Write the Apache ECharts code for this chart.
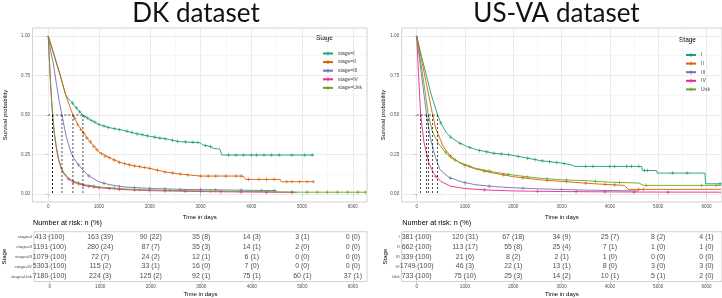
<!DOCTYPE html>
<html><head><meta charset="utf-8">
<script src="https://cdn.jsdelivr.net/npm/echarts@6/dist/echarts.min.js"></script>
<style>html,body{margin:0;padding:0;background:#fff}#c{width:722px;height:298px}</style>
</head><body><div id="c"></div><script>
// ---------- shared ----------
const colors = ['#1B9E77', '#D95F02', '#7570B3', '#E7298A', '#66A61E'];
const xTicks = [0, 1000, 2000, 3000, 4000, 5000, 6000];
const xGrid = [0, 500, 1000, 1500, 2000, 2500, 3000, 3500, 4000, 4500, 5000, 5500, 6000];
const yTicks = [0, 0.25, 0.5, 0.75, 1];
const yGrid = [0, 0.125, 0.25, 0.375, 0.5, 0.625, 0.75, 0.875, 1];
const tableTimes = [0, 1000, 2000, 3000, 4000, 5000, 6000];

// ---------- DK dataset ----------
const dkLabels = ['stage=I', 'stage=II', 'stage=III', 'stage=IV', 'stage=Unk'];
const dkCurveI = [[0,1],[100,0.89],[236,0.75],[340,0.63],[400,0.6],[470,0.58],[550,0.545],[683,0.5],[800,0.475],[1000,0.44],[1200,0.42],[1476,0.403],[1700,0.385],[2000,0.365],[2362,0.346],[2600,0.331],[2990,0.325],[3050,0.31],[3200,0.3],[3250,0.289],[3380,0.285],[3420,0.247],[5230,0.247]];
const dkCurveII = [[0,1],[100,0.9],[236,0.753],[350,0.62],[486,0.5],[600,0.43],[683,0.394],[800,0.34],[1000,0.265],[1230,0.226],[1476,0.194],[1700,0.178],[2000,0.163],[2300,0.14],[2598,0.127],[2800,0.12],[3000,0.114],[3840,0.114],[3888,0.093],[4570,0.093],[4590,0.078],[5230,0.078]];
const dkCurveIII = [[0,1],[50,0.9],[105,0.816],[160,0.7],[210,0.6],[270,0.5],[350,0.37],[420,0.29],[486,0.236],[580,0.19],[683,0.152],[800,0.115],[1000,0.078],[1200,0.06],[1476,0.046],[2000,0.036],[2600,0.03],[3500,0.026],[4500,0.022]];
const dkCurveIV = [[0,1],[20,0.86],[40,0.73],[60,0.62],[85,0.5],[120,0.38],[160,0.29],[200,0.22],[250,0.165],[300,0.13],[400,0.095],[500,0.075],[700,0.055],[1000,0.04],[1500,0.028],[2000,0.022],[3000,0.016],[4000,0.013],[4900,0.011]];
const dkCurveUnk = [[0,1],[20,0.87],[40,0.74],[60,0.63],[85,0.5],[120,0.39],[160,0.3],[200,0.23],[250,0.175],[300,0.14],[400,0.1],[500,0.08],[700,0.06],[1000,0.045],[1500,0.033],[2000,0.026],[3000,0.02],[4000,0.016],[5000,0.012],[6250,0.012]];
const dkCensorI = [[480,0.575],[560,0.545],[620,0.52],[720,0.49],[780,0.48],[850,0.465],[920,0.455],[1000,0.44],[1100,0.43],[1180,0.42],[1300,0.413],[1400,0.407],[1550,0.398],[1650,0.39],[1750,0.38],[1850,0.376],[1950,0.368],[2100,0.36],[2200,0.354],[2300,0.35],[2450,0.34],[2550,0.333],[2700,0.33],[2850,0.328],[2950,0.326],[3100,0.307],[3200,0.3],[3550,0.247],[3700,0.247],[3850,0.247],[4000,0.247],[4100,0.247],[4250,0.247],[4400,0.247],[4550,0.247],[4800,0.247],[5050,0.247],[5200,0.247]];
const dkCensorII = [[520,0.48],[580,0.44],[640,0.41],[700,0.385],[760,0.355],[830,0.33],[900,0.3],[960,0.28],[1050,0.255],[1120,0.24],[1200,0.23],[1300,0.215],[1400,0.2],[1500,0.192],[1600,0.185],[1700,0.178],[1800,0.173],[1900,0.168],[2000,0.163],[2150,0.15],[2300,0.14],[2450,0.133],[2600,0.127],[2750,0.121],[3000,0.114],[3150,0.114],[3300,0.114],[3500,0.114],[3700,0.114],[3800,0.114],[3950,0.093],[4150,0.093],[4300,0.093],[4450,0.093],[4700,0.078],[4800,0.078],[4950,0.078],[5100,0.078],[5220,0.078]];
const dkCensorIII = [[600,0.185],[800,0.115],[1100,0.068],[1400,0.048],[1700,0.042],[2000,0.036],[2300,0.033],[2600,0.03],[3000,0.028],[3300,0.027],[3800,0.025],[4200,0.023],[4450,0.022]];
const dkCensorIV = [[400,0.095],[500,0.075],[600,0.064],[700,0.055],[800,0.05],[900,0.045],[1000,0.04],[1200,0.035],[1400,0.03],[1700,0.026],[2000,0.022],[2300,0.02],[2700,0.018],[3000,0.016],[3400,0.015],[3800,0.013],[4300,0.012],[4800,0.011]];
const dkCensorUnk = [[600,0.07],[900,0.05],[1300,0.038],[1800,0.029],[2400,0.024],[3200,0.019],[4300,0.015],[4800,0.013],[5100,0.012],[5300,0.012],[5500,0.012],[5700,0.012],[5900,0.012],[6100,0.012],[6250,0.012]];
const dkMedians = [683, 486, 270, 85, 85];
const dkRiskI = ['413 (100)', '163 (39)', '90 (22)', '35 (8)', '14 (3)', '3 (1)', '0 (0)'];
const dkRiskII = ['1191 (100)', '280 (24)', '87 (7)', '35 (3)', '14 (1)', '2 (0)', '0 (0)'];
const dkRiskIII = ['1079 (100)', '72 (7)', '24 (2)', '12 (1)', '6 (1)', '0 (0)', '0 (0)'];
const dkRiskIV = ['5303 (100)', '115 (2)', '33 (1)', '16 (0)', '7 (0)', '0 (0)', '0 (0)'];
const dkRiskUnk = ['7180 (100)', '224 (3)', '125 (2)', '92 (1)', '75 (1)', '60 (1)', '37 (1)'];

// ---------- US-VA dataset ----------
const vaLabels = ['I', 'II', 'III', 'IV', 'Unk'];
const vaCurveI = [[0,1],[100,0.87],[200,0.75],[300,0.63],[434,0.5],[500,0.45],[621,0.385],[750,0.35],[897,0.322],[1050,0.3],[1242,0.28],[1587,0.259],[1932,0.248],[2250,0.23],[2553,0.212],[3001,0.196],[3200,0.185],[3278,0.175],[4656,0.175],[4670,0.149],[4967,0.149],[4980,0.133],[5969,0.133],[5980,0.065],[6300,0.065]];
const vaCurveII = [[0,1],[100,0.85],[200,0.7],[331,0.5],[400,0.41],[551,0.3],[700,0.24],[897,0.196],[1200,0.16],[1587,0.133],[2000,0.11],[2553,0.09],[3000,0.08],[3693,0.065],[4300,0.055],[4380,0.03],[6300,0.03]];
const vaCurveIII = [[0,1],[60,0.85],[130,0.68],[206,0.5],[280,0.36],[380,0.24],[482,0.154],[650,0.11],[897,0.08],[1200,0.06],[1587,0.048],[2000,0.04],[2553,0.033],[3500,0.025],[4600,0.02]];
const vaCurveIV = [[0,1],[40,0.75],[82,0.5],[150,0.33],[250,0.2],[350,0.13],[500,0.08],[700,0.05],[1000,0.035],[1500,0.025],[2000,0.02],[3000,0.016],[4500,0.013],[6300,0.012]];
const vaCurveUnk = [[0,1],[80,0.84],[160,0.68],[241,0.5],[320,0.4],[450,0.32],[551,0.28],[700,0.23],[897,0.2],[1200,0.165],[1587,0.14],[2000,0.12],[2553,0.1],[3000,0.09],[3500,0.085],[4000,0.075],[4600,0.07],[4700,0.055],[6300,0.055]];
const vaCensorI = [[500,0.45],[700,0.36],[900,0.32],[1100,0.295],[1300,0.275],[1450,0.267],[1600,0.258],[1750,0.253],[1900,0.249],[2100,0.238],[2300,0.227],[2450,0.218],[2600,0.21],[2750,0.205],[2900,0.2],[3050,0.193],[3500,0.175],[3650,0.175],[4000,0.175],[4100,0.175],[4350,0.175],[4450,0.175],[4600,0.175],[4720,0.149],[4780,0.149],[5300,0.133],[5600,0.133],[6280,0.065]];
const vaCensorII = [[700,0.24],[1000,0.18],[1400,0.145],[1800,0.122],[2200,0.102],[2700,0.087],[3100,0.078],[3500,0.069],[3900,0.062],[4100,0.058],[4600,0.03],[4700,0.03]];
const vaCensorIII = [[700,0.1],[1000,0.071],[1500,0.05],[2200,0.037],[3000,0.029]];
const vaCensorIV = [[400,0.11],[1400,0.027],[2500,0.018],[3300,0.015],[3900,0.014],[4500,0.013],[5200,0.012]];
const vaCensorUnk = [[600,0.265],[800,0.215],[1100,0.175],[1500,0.145],[1900,0.125],[2300,0.108],[2700,0.097],[3100,0.089],[3700,0.081],[4200,0.073],[4750,0.055],[5900,0.055],[6200,0.055]];
const vaMedians = [434, 331, 206, 82, 241];
const vaRiskI = ['381 (100)', '120 (31)', '67 (18)', '34 (9)', '25 (7)', '8 (2)', '4 (1)'];
const vaRiskII = ['662 (100)', '113 (17)', '55 (8)', '25 (4)', '7 (1)', '1 (0)', '1 (0)'];
const vaRiskIII = ['339 (100)', '21 (6)', '8 (2)', '2 (1)', '1 (0)', '0 (0)', '0 (0)'];
const vaRiskIV = ['1749 (100)', '46 (3)', '22 (1)', '13 (1)', '8 (0)', '3 (0)', '3 (0)'];
const vaRiskUnk = ['733 (100)', '75 (10)', '25 (3)', '14 (2)', '10 (1)', '5 (1)', '2 (0)'];

// ---------- build ----------
const AXF = 'Liberation Sans';
const PLUS = 'path://M4,0H6V4H10V6H6V10H4V6H0V4H4Z';
const option = { animation: false, grid: [], xAxis: [], yAxis: [], series: [], legend: [], graphic: [] };

function addPanel(c) {
  const g0 = option.grid.length, g1 = g0 + 1;
  option.grid.push({ left: c.left, top: 28, width: c.width, height: 174, show: true, borderColor: '#b3b3b3', borderWidth: 0.6 });
  option.grid.push({ left: c.left, top: 231.7, width: c.width, height: 50, show: true, borderColor: '#b3b3b3', borderWidth: 0.6 });
  const tickStyle = { color: '#b3b3b3', width: 0.6 };
  const lab = { fontSize: 4.6, color: '#4d4d4d', fontFamily: AXF, margin: 2.5 };
  const xfmt = v => String(Math.round(v));
  // minor grid axes for plot
  option.xAxis.push({ gridIndex: g0, type: 'value', position: 'bottom', min: -310, max: c.xMax, axisLine: { show: false },
    axisTick: { show: false, customValues: xGrid }, axisLabel: { show: false, customValues: xGrid },
    splitLine: { show: true, lineStyle: { color: '#f0f0f0', width: 0.5 } } });
  option.yAxis.push({ gridIndex: g0, type: 'value', position: 'left', min: -0.05, max: 1.05, axisLine: { show: false },
    axisTick: { show: false, customValues: yGrid }, axisLabel: { show: false, customValues: yGrid },
    splitLine: { show: true, lineStyle: { color: '#f0f0f0', width: 0.5 } } });
  // main axes
  const xMain = option.xAxis.length;
  option.xAxis.push({ gridIndex: g0, type: 'value', position: 'bottom', min: -310, max: c.xMax, axisLine: { show: false },
    axisTick: { show: true, length: 2.5, lineStyle: tickStyle, customValues: xTicks },
    axisLabel: Object.assign({ customValues: xTicks, formatter: xfmt }, lab),
    splitLine: { show: true, lineStyle: { color: '#e3e3e3', width: 0.6 } },
    name: 'Time in days', nameLocation: 'middle', nameGap: 7.5,
    nameTextStyle: { fontSize: 6, color: '#000', fontFamily: AXF } });
  const yMain = option.yAxis.length;
  option.yAxis.push({ gridIndex: g0, type: 'value', position: 'left', min: -0.05, max: 1.05, axisLine: { show: false },
    axisTick: { show: true, length: 2.5, lineStyle: tickStyle, customValues: yTicks },
    axisLabel: Object.assign({ customValues: yTicks, formatter: v => v.toFixed(2) }, lab),
    splitLine: { show: true, lineStyle: { color: '#e3e3e3', width: 0.6 } },
    name: 'Survival probability', nameLocation: 'middle', nameRotate: 90, nameGap: c.yNameGap,
    nameTextStyle: { fontSize: 6, color: '#000', fontFamily: AXF } });
  // table axes
  const xTab = option.xAxis.length;
  option.xAxis.push({ gridIndex: g1, type: 'value', position: 'bottom', min: -310, max: c.xMax, axisLine: { show: false },
    axisTick: { show: true, length: 2.5, lineStyle: tickStyle, customValues: xTicks },
    axisLabel: Object.assign({ customValues: xTicks, formatter: xfmt }, lab),
    splitLine: { show: true, lineStyle: { color: '#ececec', width: 0.5 } },
    name: 'Time in days', nameLocation: 'middle', nameGap: 9.5,
    nameTextStyle: { fontSize: 6, color: '#000', fontFamily: AXF } });
  const yTab = option.yAxis.length;
  option.yAxis.push({ gridIndex: g1, type: 'category', position: 'left', data: c.labels, inverse: true, axisLine: { show: false },
    axisTick: { show: true, alignWithLabel: true, length: 2.5, lineStyle: tickStyle },
    axisLabel: { fontSize: 4.4, color: '#4d4d4d', fontFamily: AXF, margin: 2 },
    splitLine: { show: false },
    name: 'Stage', nameLocation: 'middle', nameRotate: 90, nameGap: c.tabNameGap,
    nameTextStyle: { fontSize: 6, color: '#000', fontFamily: AXF } });

  // curves
  c.curves.forEach((d, i) => {
    option.series.push({ type: 'line', name: c.labels[i], xAxisIndex: xMain, yAxisIndex: yMain, data: d,
      showSymbol: false, symbol: PLUS, symbolSize: 4, color: colors[i],
      lineStyle: { width: 0.9, color: colors[i] }, z: 3 });
  });
  c.censors.forEach((d, i) => {
    option.series.push({ type: 'scatter', xAxisIndex: xMain, yAxisIndex: yMain, data: d,
      symbol: PLUS, symbolSize: 3.6, itemStyle: { color: colors[i], opacity: 0.9 }, z: 4, silent: true });
  });
  // median lines
  const mMax = Math.max(...c.medians);
  option.series.push({ type: 'line', xAxisIndex: xMain, yAxisIndex: yMain, data: [[0, 0.5], [mMax, 0.5]],
    showSymbol: false, symbol: 'none', lineStyle: { color: '#000', width: 0.7, type: [2, 2] }, z: 5, silent: true });
  c.medians.forEach(m => {
    option.series.push({ type: 'line', xAxisIndex: xMain, yAxisIndex: yMain, data: [[m, 0.5], [m, 0]],
      showSymbol: false, symbol: 'none', lineStyle: { color: '#000', width: 0.7, type: [2, 2] }, z: 5, silent: true });
  });
  // risk table
  const tdata = [];
  c.risk.forEach((row, r) => row.forEach((txt, k) => tdata.push([tableTimes[k], c.labels[r], txt])));
  option.series.push({ type: 'scatter', xAxisIndex: xTab, yAxisIndex: yTab, data: tdata, symbolSize: 0,
    label: { show: true, position: 'inside', formatter: p => p.value[2], fontSize: 7, color: '#222', fontFamily: AXF },
    silent: true });
  // legend
  option.legend.push({ orient: 'vertical', left: c.legendLeft, top: c.legendTop, itemWidth: 10, itemHeight: 5,
    itemGap: 3.6, data: c.labels, textStyle: { fontSize: 5, color: '#444', fontFamily: AXF }, selectedMode: false });
  option.graphic.push({ type: 'text', left: c.legendLeft - 1, top: c.legendTop - 11,
    style: { text: 'Stage', fontSize: 6.5, fontFamily: AXF, fill: '#000' } });
  option.graphic.push({ type: 'text', left: c.left + 0.5, top: 219.5,
    style: { text: 'Number at risk: n (%)', fontSize: 7.3, fontFamily: AXF, fill: '#000' } });
  option.graphic.push({ type: 'text', x: c.titleX, y: 1,
    style: { text: c.title, font: '26px Lato', fill: '#111', align: 'center', textAlign: 'center' } });
}

addPanel({ left: 32.5, width: 334.5, xMax: 6280, yNameGap: 24, tabNameGap: 24, labels: dkLabels,
  curves: [dkCurveI, dkCurveII, dkCurveIII, dkCurveIV, dkCurveUnk],
  censors: [dkCensorI, dkCensorII, dkCensorIII, dkCensorIV, dkCensorUnk],
  medians: dkMedians, risk: [dkRiskI, dkRiskII, dkRiskIII, dkRiskIV, dkRiskUnk],
  legendLeft: 317, legendTop: 46, title: 'DK dataset', titleX: 196 });
addPanel({ left: 401.7, width: 320.3, xMax: 6321, yNameGap: 10.5, tabNameGap: 11, labels: vaLabels,
  curves: [vaCurveI, vaCurveII, vaCurveIII, vaCurveIV, vaCurveUnk],
  censors: [vaCensorI, vaCensorII, vaCensorIII, vaCensorIV, vaCensorUnk],
  medians: vaMedians, risk: [vaRiskI, vaRiskII, vaRiskIII, vaRiskIV, vaRiskUnk],
  legendLeft: 680, legendTop: 47.5, title: 'US-VA dataset', titleX: 556.5 });

const chart = echarts.init(document.getElementById('c'), null, { renderer: 'canvas' });
chart.setOption(option);
</script></body></html>
